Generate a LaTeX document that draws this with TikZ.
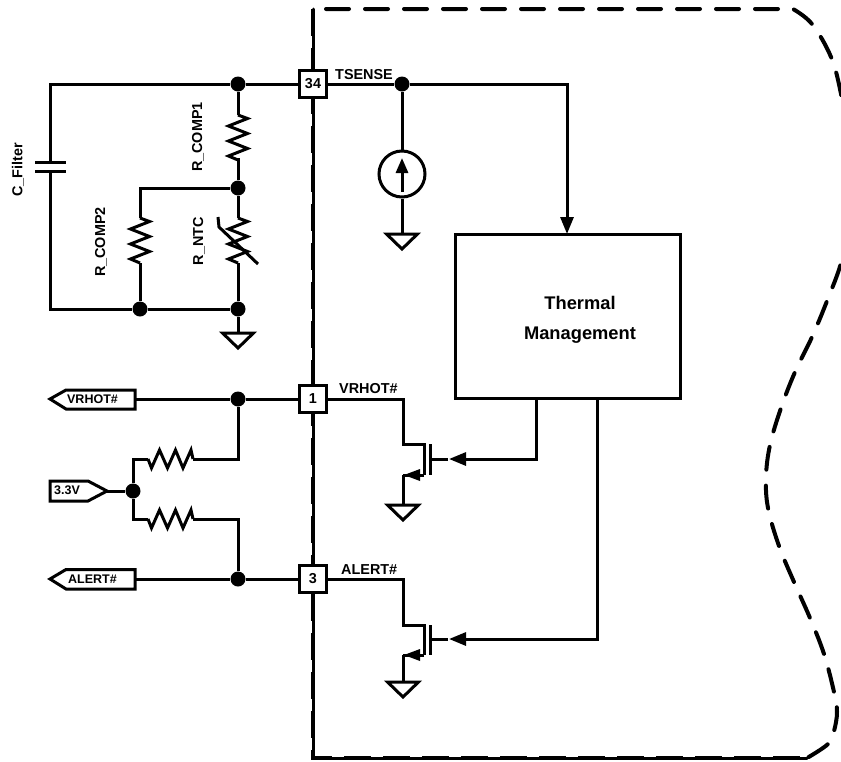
\documentclass[tikz,border=0pt]{standalone}
\usepackage{fontspec}
\setmainfont{Liberation Sans}
\usetikzlibrary{arrows.meta}
\newcommand{\lblfont}{\fontsize{14.4}{16}\selectfont\bfseries}
\newcommand{\tagfont}{\fontsize{12.5}{14}\selectfont\bfseries}
\tikzset{
  wire/.style={line width=3pt,line join=miter},
  pinbox/.style={draw,line width=3pt,fill=white,minimum size=27pt,inner sep=0pt,font=\lblfont},
  dot/.style={circle,fill=black,minimum size=15pt,inner sep=0pt},
  lbl/.style={font=\lblfont,inner sep=0pt},
  taglbl/.style={font=\tagfont,inner sep=0pt},
  rlbl/.style={font=\lblfont,inner sep=0pt,rotate=90},
  bound/.style={line width=4pt,line cap=round,dash pattern=on 23pt off 16pt},
  headb/.style={-{Triangle[length=17pt,width=13pt]}},
  tagshape/.style={line width=3pt,line join=miter,fill=white},
}
% vertical resistor centred on x from (#1,#2) downward, 45 long
\newcommand{\vres}[2]{%
  \draw[wire] (#1,#2) -- ++(9.5,3.5) -- ++(-19,7.5) -- ++(19,7.5) -- ++(-19,7.5) -- ++(19,7.5) -- ++(-19,7.5) -- ++(9.5,4);}
% horizontal resistor from (#1,#2) rightward, 45 long
\newcommand{\hres}[2]{%
  \draw[wire] (#1,#2) -- ++(3.5,9) -- ++(8,-18) -- ++(8,18) -- ++(8,-18) -- ++(7.5,18) -- ++(8,-18) -- ++(2,9);}
\newcommand{\gnd}[2]{%
  \draw[wire,line join=miter] (#1-15.5,#2) -- (#1+15.5,#2) -- (#1,#2+15) -- cycle;}
\begin{document}
\begin{tikzpicture}[x=1pt,y=-1pt]
\useasboundingbox (0,0) rectangle (841,761);
\clip (0,0) rectangle (841,761);
% boundary
\draw[line width=3pt,line cap=round] (313,9) -- (313,758) -- (807,758);
\draw[line width=4pt,dash pattern=on 27pt off 12pt] (313,9) -- (313,758) -- (807,758);
\draw[bound] (326,9) -- (786,9) -- plot[smooth,tension=0.6] coordinates {(793,9) (812,24) (831,57) (841,94) (848,140) (851,180) (848,225) (841,263) (827,301) (812,337) (795,372) (781,408) (770,445) (766,477) (768,508) (779,546) (794,582) (810,618) (824,654) (834,692) (837,712) (834,731) (828,744) (807,758)};
% nodes
\coordinate (capL) at (50,84);
\node[dot] (j1) at (238,84) {};
\node[dot] (j2) at (238,188) {};
\node[dot] (j3) at (238,309) {};
\node[dot] (j4) at (140,309) {};
\node[dot] (jt) at (402,84) {};
\node[dot] (jv) at (238,399) {};
\node[dot] (ja) at (238,579) {};
\node[dot] (j33) at (133,491) {};
\node[pinbox] (p34) at (313,84) {34};
\node[pinbox] (p1) at (313,399) {1};
\node[pinbox] (p3) at (313,579) {3};
\node[draw,line width=3pt,minimum width=225pt,minimum height=164pt,inner sep=0pt] (tm) at (567.5,316.5) {};
\node[inner sep=0pt,align=center,font=\fontsize{18.3}{30}\selectfont\bfseries] (tmt) at (580,320) {Thermal\\Management};
\node[draw,circle,line width=3pt,minimum size=46pt,inner sep=0pt] (src) at (402,174) {};
% wires: sense network
\draw[wire] (p34) -- (j1) -- (capL) -- (50,162);
\draw[wire] (50,171) -- (50,309) -- (j4);
\draw[wire] (j4) -- (j3);
\draw[wire] (35,162) -- (66,162);
\draw[wire] (35,171) -- (66,171);
\draw[wire] (j1) -- (238,115);
\vres{238}{115}
\draw[wire] (238,158) -- (j2);
\draw[wire] (j2) -- (238,218);
\vres{238}{218}
\draw[wire] (238,263) -- (j3);
\draw[wire] (j3) -- (238,333);
\gnd{238}{333}
\draw[wire] (j2) -- (140,188) -- (140,218);
\vres{140}{218}
\draw[wire] (140,263) -- (j4);
\draw[wire] (218,217) -- (219,227) -- (258,264);
% tsense
\draw[wire] (p34) -- (jt);
\draw[wire,headb] (jt) -| (567,234);
\draw[wire] (jt) -- (src);
\draw[wire] (src) -- (402,234);
\gnd{402}{234}
\draw[wire,-{Triangle[length=15pt,width=12pt]}] (402,192) -- (402,158);
% VRHOT side
\draw[tagshape] (135,390) -- (66,390) -- (50,399) -- (66,409) -- (135,409) -- cycle;
\draw[tagshape] (66,569.5) -- (135,569.5) -- (135,589) -- (66,589) -- (50,579) -- cycle;
\draw[tagshape] (50,481) -- (88,481) -- (107,491) -- (88,501) -- (50,501) -- cycle;
\node[taglbl] (tv) at (92.5,399) {VRHOT\#};
\node[taglbl] (ta) at (92.5,579) {ALERT\#};
\node[taglbl] (t33) at (67,490) {3.3V};
\draw[wire] (135,399) -- (jv) -- (p1);
\draw[wire] (135,579) -- (ja) -- (p3);
\draw[wire] (107,491) -- (j33);
\draw[wire] (j33) -- (133,459) -- (148,459);
\hres{148}{459}
\draw[wire] (193,459) -- (238,459) -- (jv);
\draw[wire] (j33) -- (133,519) -- (148,519);
\hres{148}{519}
\draw[wire] (193,519) -- (238,519) -- (ja);
% mosfets
\draw[wire] (p1) -- (403,399) -- (403,444) -- (424,444) -- (424,475);
\draw[wire] (424,475) -- (403,475);
\draw[wire] (403,475) -- (403,505);
\fill (404,475) -- (420,469) -- (420,481) -- cycle;
\gnd{403}{505}
\draw[wire] (430.5,444) -- (430.5,475);
\draw[wire] (430.5,459) -- (448,459);
\draw[wire,headb] (536,398) -- (536,459) -- (449,459);
\draw[wire] (p3) -- (403,579) -- (403,625) -- (424,625) -- (424,655);
\draw[wire] (424,655) -- (403,655);
\draw[wire] (403,655) -- (403,682);
\fill (404,655) -- (420,649) -- (420,661) -- cycle;
\gnd{403}{682}
\draw[wire] (430.5,625) -- (430.5,655);
\draw[wire] (430.5,639) -- (448,639);
\draw[wire,headb] (597,398) -- (597,639) -- (449,639);
% labels
\node[lbl,anchor=base west] (lt) at (335,79) {TSENSE};
\node[lbl,anchor=base west] (lv) at (339,393) {VRHOT\#};
\node[lbl,anchor=base west] (la) at (341,574) {ALERT\#};
\node[rlbl] (lc) at (18,170) {C\_Filter};
\node[rlbl] (lr1) at (198,137) {R\_COMP1};
\node[rlbl] (lr2) at (101,242) {R\_COMP2};
\node[rlbl] (ln) at (199,241) {R\_NTC};
\end{tikzpicture}
\end{document}
